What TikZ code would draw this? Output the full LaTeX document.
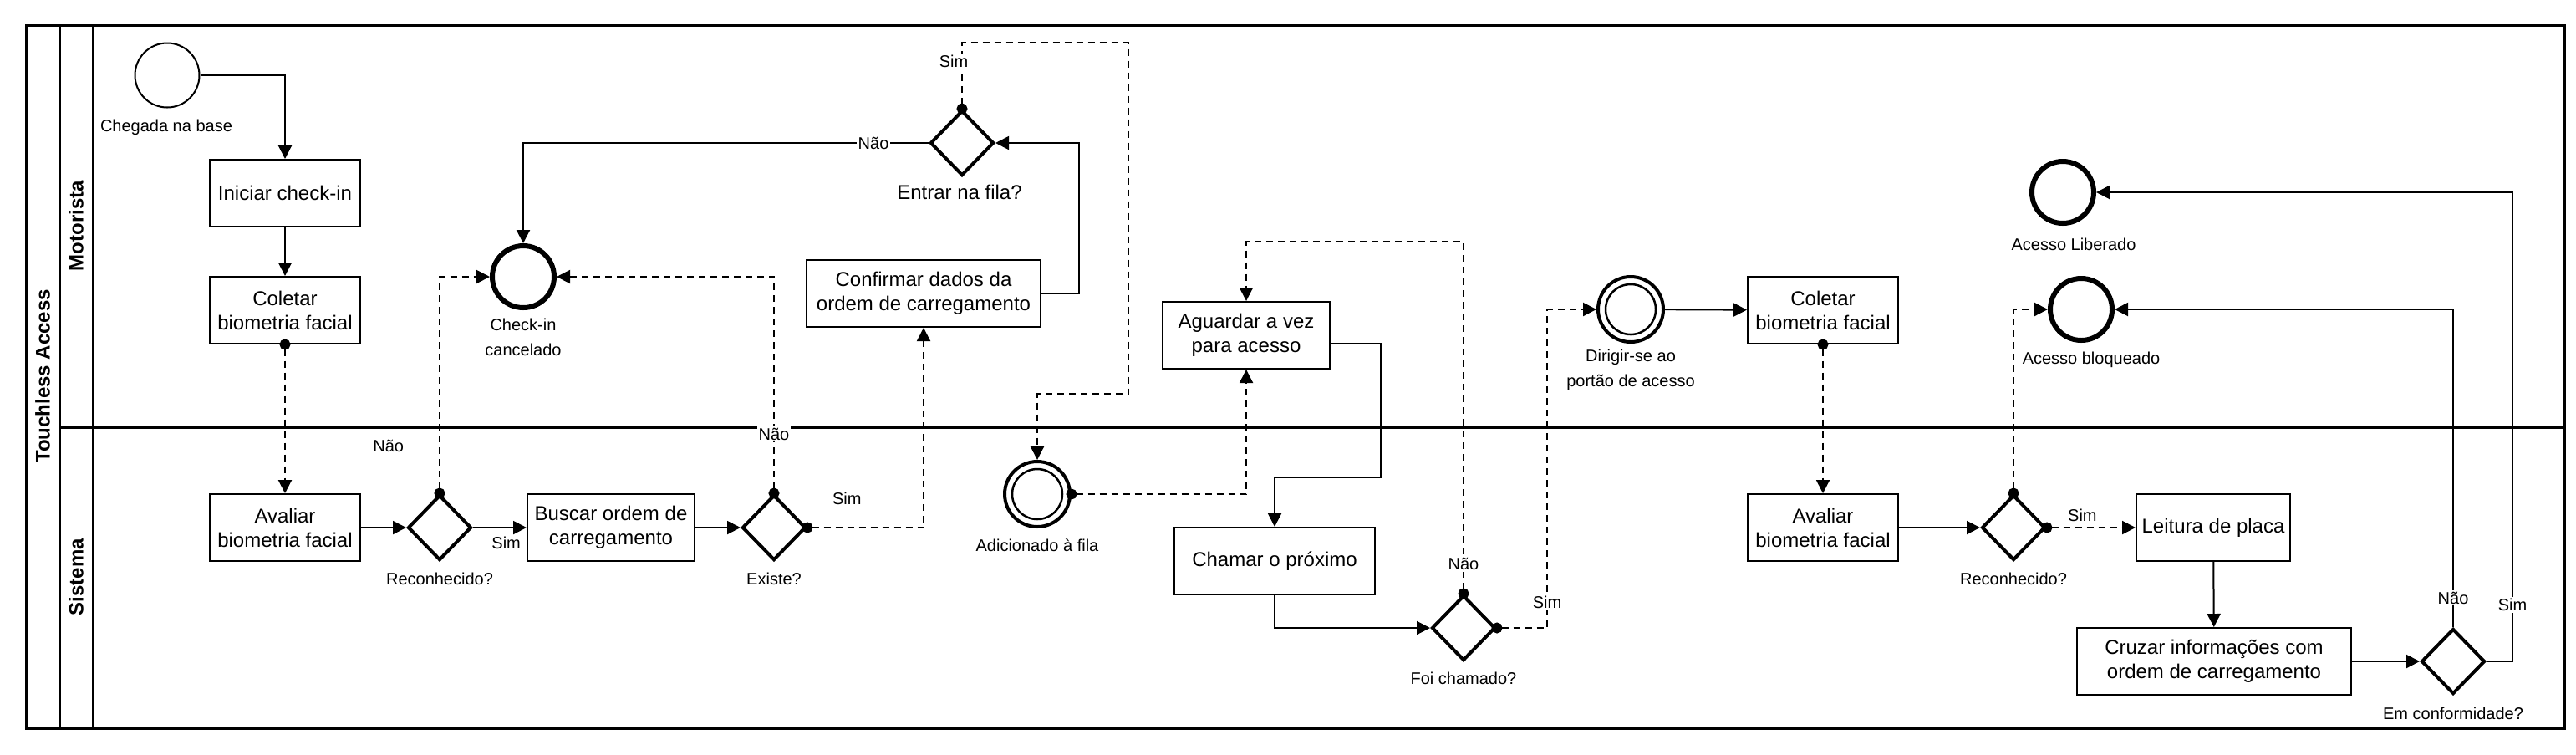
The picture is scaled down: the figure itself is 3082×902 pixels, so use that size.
\documentclass[tikz,border=0pt]{standalone}
\usepackage{fontspec}
\setmainfont{Liberation Sans}
\usetikzlibrary{arrows.meta,shapes.geometric}
\tikzset{
  task/.style={draw, line width=1pt, minimum height=40pt, align=center, inner sep=2pt, font=\fontsize{12}{14.5}\selectfont},
  gate/.style={diamond, draw, line width=2pt, minimum width=38pt, minimum height=39pt, inner sep=0pt},
  startev/.style={circle, draw, line width=1pt, minimum size=38.5pt, inner sep=0pt},
  endev/.style={circle, draw, line width=3pt, minimum size=37pt, inner sep=0pt},
  midev/.style={circle, draw, line width=2pt, minimum size=39pt, inner sep=0pt,
    path picture={\draw[line width=1.25pt] (path picture bounding box.center) circle (15pt);}},
  lbl/.style={font=\fontsize{10}{15}\selectfont, align=center, inner sep=1pt},
  edgelbl/.style={lbl, fill=white},
  lane/.style={rotate=90, font=\bfseries\fontsize{12}{14}\selectfont},
  seq/.style={line width=1pt, -{Triangle[length=8pt,width=8pt]}},
  msg/.style={line width=1pt, dash pattern=on 4pt off 3pt, shorten <=-3.25pt,
    {Circle[length=6.5pt]}-{Triangle[length=8pt,width=8pt]}}
}
\begin{document}
\begin{tikzpicture}[x=0.5pt, y=-0.5pt]
    \useasboundingbox (0,0) rectangle (3082,902);
    \draw[line width=1.5pt] (31,30) rectangle (3068,871)
                            (71,30) -- (71,871)
                            (111,30) -- (111,871)
                            (71,511) -- (3068,511);
    \node[lane] (pool)      at (51,450) {Touchless Access};
    \node[lane] (motorista) at (91,270) {Motorista};
    \node[lane] (sistema)   at (91,690) {Sistema};

    \node[startev] (chegada)    at (200,90)   {};
    \node[task, minimum width=90pt]  (iniciar)    at (341,231)  {Iniciar check-in};
    \node[task, minimum width=90pt]  (coletar)    at (341,371)  {Coletar\\biometria facial};
    \node[task, minimum width=90pt]  (avaliar)    at (341,631)  {Avaliar\\biometria facial};
    \node[gate]    (recon)      at (526,631)  {};
    \node[task, minimum width=100pt] (buscar)     at (731,631)  {Buscar ordem de\\carregamento};
    \node[gate]    (existe)     at (926,631)  {};
    \node[endev]   (cancel)     at (626,331)  {};
    \node[task, minimum width=140pt] (confirmar)  at (1105,351) {Confirmar dados da\\ordem de carregamento};
    \node[gate]    (entrar)     at (1151,171) {};
    \node[midev]   (adicionado) at (1241,591) {};
    \node[task, minimum width=100pt] (aguardar)   at (1491,401) {Aguardar a vez\\para acesso};
    \node[task, minimum width=120pt] (chamar)     at (1525,671) {Chamar o próximo};
    \node[gate]    (foi)        at (1751,751) {};
    \node[midev]   (dirigir)    at (1951,370) {};
    \node[task, minimum width=90pt]  (coletarb)   at (2181,371) {Coletar\\biometria facial};
    \node[task, minimum width=90pt]  (avaliarb)   at (2181,631) {Avaliar\\biometria facial};
    \node[gate]    (reconb)     at (2409,631) {};
    \node[endev]   (liberado)   at (2468,230) {};
    \node[endev]   (bloqueado)  at (2490,370) {};
    \node[task, minimum width=92pt]  (leitura)    at (2648,631) {Leitura de placa};
    \node[task, minimum width=164pt] (cruzar)     at (2649,791) {Cruzar informações com\\ordem de carregamento};
    \node[gate]    (conform)    at (2935,791) {};

    \node[lbl] (chegadal) at (199,152)  {Chegada na base};
    \node[lbl] (cancell)  at (626,403)  {Check-in\\cancelado};
    \node[lbl] (reconl)   at (526,692)  {Reconhecido?};
    \node[lbl] (existel)  at (926,692)  {Existe?};
    \node[lbl, font=\fontsize{12}{14}\selectfont] (entrarl) at (1148,230) {Entrar na fila?};
    \node[lbl] (adicl)    at (1241,652) {Adicionado à fila};
    \node[lbl] (foil)     at (1751,811) {Foi chamado?};
    \node[lbl] (dirl)     at (1951,442) {Dirigir-se ao\\portão de acesso};
    \node[lbl] (reconbl)  at (2409,692) {Reconhecido?};
    \node[lbl] (libl)     at (2481,292) {Acesso Liberado};
    \node[lbl] (bloql)    at (2502,430) {Acesso bloqueado};
    \node[lbl] (confl)    at (2935,853) {Em conformidade?};

    \draw[seq] (chegada.east) -| (iniciar.north);
    \draw[seq] (iniciar) -- (coletar);
    \draw[msg] (coletar.south) -- (avaliar.north);
    \draw[seq] (avaliar) -- (recon);
    \draw[seq] (recon) -- node[lbl, pos=.62, below=4pt] {Sim} (buscar);
    \draw[msg] (recon.north) |- node[lbl, pos=.11, left=20pt] {Não} (cancel.west);
    \draw[seq] (buscar) -- (existe);
    \draw[msg] (existe.north) |- node[edgelbl, pos=.137] {Não} (cancel.east);
    \draw[msg] (existe.east) -| node[lbl, pos=.17, above=12pt] {Sim} (confirmar.south);
    \draw[seq] (confirmar.east) -- ++(45,0) |- (entrar.east);
    \draw[seq] (entrar.west) -| node[edgelbl, pos=.068] {Não} (cancel.north);
    \draw[msg] (entrar.north) -- node[edgelbl, pos=.72, xshift=-5pt] {Sim} ++(0,-79) -| ++(199,420) -| (adicionado.north);
    \draw[msg] (adicionado.east) -| (aguardar.south);
    \draw[seq] ([yshift=-5pt]aguardar.east) -| ++(60,160) -| (chamar.north);
    \draw[seq] (chamar.south) |- (foi.west);
    \draw[msg] (foi.north) -- node[edgelbl, pos=.085] {Não} ++(0,-421) -| (aguardar.north);
    \draw[msg] (foi.east) -- ++(60,0) |- node[edgelbl, pos=.04] {Sim} (dirigir.west);
    \draw[seq] (dirigir) -- (coletarb);
    \draw[msg] (coletarb.south) -- (avaliarb.north);
    \draw[seq] (avaliarb) -- (reconb);
    \draw[msg] (reconb.east) -- node[lbl, pos=.4, above=2pt] {Sim} (leitura.west);
    \draw[msg] (reconb.north) |- (bloqueado.west);
    \draw[seq] (leitura) -- (cruzar);
    \draw[seq] (cruzar) -- (conform);
    \draw[seq] (conform.north) |- node[edgelbl, pos=.046] {Não} (bloqueado.east);
    \draw[seq] (conform.east) -- ++(31,0) |- node[edgelbl, pos=.06] {Sim} (liberado.east);
\end{tikzpicture}
\end{document}
